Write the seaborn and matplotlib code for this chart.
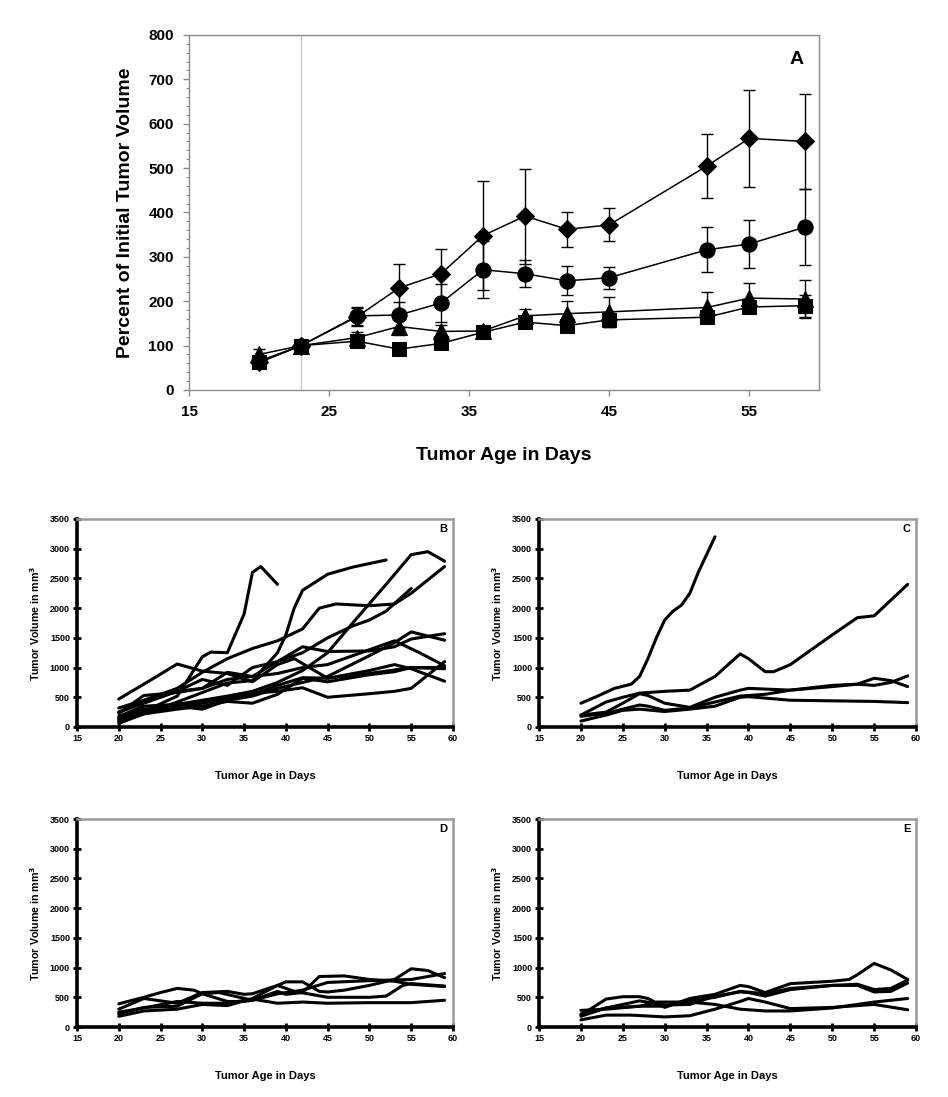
import numpy as np
import pandas as pd
import matplotlib
matplotlib.use('Agg')
import matplotlib.pyplot as plt
import seaborn as sns

# ---- panel A: percent of initial tumor volume (mean +/- error) ----
days_a = [20, 23, 27, 30, 33, 36, 39, 42, 45, 52, 55, 59]
diamond = [62, 100, 165, 230, 262, 348, 392, 362, 372, 505, 567, 560]
diamond_err = [12, 0, 20, 53, 55, 123, 107, 40, 37, 72, 109, 108]
circle = [65, 100, 167, 169, 196, 271, 262, 246, 253, 316, 329, 367]
circle_err = [12, 0, 20, 30, 42, 64, 31, 33, 25, 51, 55, 86]
triangle = [80, 100, 118, 143, 132, 133, 167, 172, 176, 186, 207, 205]
triangle_err = [13, 0, 12, 20, 15, 10, 15, 28, 33, 35, 33, 43]
square = [62, 100, 110, 92, 105, 130, 153, 145, 158, 164, 187, 190]
square_err = [10, 0, 8, 8, 10, 8, 10, 10, 15, 12, 10, 25]

# ---- panels B-E: individual tumor volumes (mm^3) ----
b_days = [
    [20, 23, 27, 30, 31, 33, 35, 36, 37, 39],
    [20, 23, 27, 30, 33, 36, 39, 40, 41, 42, 45, 48, 52],
    [20, 23, 27, 30, 33, 36, 39, 42, 45, 48, 52, 55, 57, 59],
    [20, 23, 27, 30, 33, 36, 39, 42, 44, 46, 50, 53, 55, 59],
    [20, 23, 27, 30, 33, 36, 39, 42, 45, 48, 50, 52, 55],
    [20, 23, 27, 30, 33, 36, 39, 41, 45, 50, 55, 59],
    [20, 23, 27, 30, 33, 36, 39, 42, 45, 50, 53, 55, 59],
    [20, 23, 27, 30, 33, 36, 39, 42, 45, 50, 53, 56, 59],
    [20, 23, 27, 30, 33, 36, 39, 42, 45, 50, 53, 55, 59],
    [20, 23, 27, 30, 33, 36, 39, 42, 45, 50, 53, 55, 59],
    [20, 23, 27, 30, 33, 36, 39, 42, 45, 50, 53, 55, 59],
    [20, 23, 27, 30, 33, 36, 39, 42, 45, 50, 53, 55, 59],
]
b_vols = [
    [130, 260, 520, 1180, 1260, 1250, 1900, 2600, 2700, 2400],
    [90, 220, 420, 580, 740, 780, 1250, 1550, 2000, 2300, 2570, 2690, 2810],
    [150, 250, 380, 450, 520, 600, 750, 950, 1250, 1750, 2400, 2900, 2950, 2790],
    [320, 450, 650, 920, 1150, 1320, 1450, 1650, 2000, 2070, 2040, 2070, 2250, 2700],
    [250, 400, 600, 650, 800, 850, 1100, 1250, 1500, 1700, 1800, 1950, 2330],
    [470, 720, 1060, 940, 900, 760, 1050, 1150, 820, 900, 1000, 1000],
    [250, 420, 600, 800, 700, 1000, 1100, 1350, 1270, 1280, 1350, 1480, 1570],
    [230, 530, 580, 650, 920, 850, 900, 1000, 1050, 1300, 1450, 1250, 1030],
    [180, 350, 380, 420, 500, 550, 700, 830, 820, 950, 1050, 980, 770],
    [100, 270, 320, 400, 470, 570, 600, 660, 500, 560, 600, 650, 1100],
    [60, 220, 300, 350, 430, 400, 550, 820, 760, 880, 930, 1000, 980],
    [150, 300, 350, 300, 450, 520, 650, 750, 850, 1200, 1420, 1600, 1460],
]

c_days = [
    [20, 22, 24, 26, 27, 28, 29, 30, 31, 32, 33, 34, 35, 36],
    [20, 23, 25, 27, 30, 33, 36, 39, 40, 42, 43, 45, 50, 53, 55, 59],
    [20, 23, 25, 27, 28, 30, 33, 36, 39, 40, 45, 50, 53, 55, 57, 59],
    [20, 23, 25, 27, 28, 30, 33, 36, 39, 42, 45, 50, 53, 55, 57, 59],
    [20, 23, 25, 27, 30, 33, 36, 39, 40, 45, 50, 55, 59],
]
c_vols = [
    [400, 520, 650, 720, 850, 1150, 1500, 1800, 1950, 2050, 2250, 2600, 2900, 3200],
    [200, 420, 500, 570, 600, 620, 850, 1230, 1150, 930, 930, 1050, 1550, 1840, 1870, 2400],
    [200, 250, 400, 560, 530, 400, 330, 500, 620, 650, 620, 680, 720, 820, 780, 680],
    [180, 230, 300, 370, 350, 280, 320, 420, 520, 550, 620, 700, 720, 700, 750, 860],
    [100, 200, 280, 300, 260, 300, 350, 500, 510, 450, 440, 430, 410],
]

d_days = [
    [20, 23, 25, 27, 29, 30, 33, 35, 36, 39, 42, 45, 50, 55, 59],
    [20, 23, 27, 30, 33, 35, 36, 39, 40, 42, 44, 45, 47, 50, 53, 55, 57, 59],
    [20, 23, 27, 30, 32, 36, 39, 40, 42, 44, 47, 50, 53, 55, 59],
    [20, 23, 27, 30, 33, 36, 39, 41, 45, 50, 52, 54, 55, 59],
    [20, 23, 27, 30, 33, 36, 39, 42, 45, 50, 55, 59],
]
d_vols = [
    [390, 500, 580, 650, 620, 560, 430, 430, 450, 560, 620, 750, 780, 800, 900],
    [300, 480, 400, 580, 600, 550, 560, 700, 760, 760, 600, 590, 620, 700, 800, 980, 950, 830],
    [220, 330, 350, 560, 580, 450, 600, 550, 580, 850, 860, 800, 770, 720, 680],
    [180, 270, 300, 380, 360, 480, 700, 600, 500, 500, 520, 700, 730, 690],
    [250, 320, 430, 400, 400, 470, 400, 420, 400, 410, 410, 450],
]

e_days = [
    [20, 23, 25, 27, 28, 30, 33, 36, 39, 40, 42, 45, 50, 52, 53, 55, 57, 59],
    [20, 23, 27, 30, 33, 36, 39, 40, 42, 45, 50, 53, 55, 57, 59],
    [20, 23, 27, 30, 33, 36, 39, 42, 45, 50, 53, 55, 57, 59],
    [20, 23, 27, 29, 33, 36, 39, 42, 45, 50, 55, 59],
    [20, 23, 26, 30, 33, 36, 39, 40, 42, 45, 50, 55, 59],
]
e_vols = [
    [200, 470, 510, 510, 480, 330, 480, 550, 700, 680, 580, 730, 770, 800, 880, 1070, 960, 800],
    [180, 320, 440, 370, 380, 520, 590, 580, 520, 630, 700, 720, 630, 650, 790],
    [220, 320, 350, 350, 450, 500, 600, 560, 650, 700, 700, 590, 600, 740],
    [280, 300, 350, 420, 420, 380, 300, 270, 270, 320, 420, 480],
    [120, 200, 200, 170, 190, 300, 430, 480, 420, 310, 330, 380, 290],
]

sns.set_theme(style='white')
plt.rcParams['font.family'] = ['Liberation Sans', 'DejaVu Sans']
plt.rcParams['font.weight'] = 'bold'
plt.rcParams['mathtext.default'] = 'bf'
plt.rcParams['text.color'] = 'black'
plt.rcParams['axes.labelcolor'] = 'black'
plt.rcParams['xtick.color'] = 'black'
plt.rcParams['ytick.color'] = 'black'

fig = plt.figure(figsize=(9.48, 10.97), dpi=100)

# ---------------- panel A ----------------
ax = fig.add_axes([0.1994, 0.6445, 0.6646, 0.3236])
groups = {'diamond': (diamond, diamond_err, 'D', 9),
          'circle': (circle, circle_err, 'o', 11),
          'triangle': (triangle, triangle_err, '^', 11),
          'square': (square, square_err, 's', 10)}
rows = []
for name, (vals, errs, m, ms) in groups.items():
    for d, v in zip(days_a, vals):
        rows.append({'day': d, 'pct': v, 'group': name})
df_a = pd.DataFrame(rows)

ax.axvline(23, color='#c8c8c8', lw=0.9, zorder=0)
for name, (vals, errs, m, ms) in groups.items():
    ax.errorbar(days_a, vals, yerr=errs, fmt='none', ecolor='black',
                elinewidth=1, capsize=4, capthick=1, zorder=1.5)
    sns.lineplot(data=df_a[df_a['group'] == name], x='day', y='pct', ax=ax,
                 color='black', lw=1.1, marker=m, markersize=ms,
                 markeredgecolor='black', legend=False, zorder=3)

ax.set_xlim(15, 60)
ax.set_ylim(0, 800)
ax.set_xticks([15, 25, 35, 45, 55])
ax.set_yticks(np.arange(0, 801, 100))
ax.set_yticks(np.arange(0, 801, 20), minor=True)
for s in ax.spines.values():
    s.set_color('#8c8c8c')
    s.set_linewidth(1.0)
ax.tick_params(axis='both', which='major', direction='out', length=4, width=1,
               color='#8c8c8c', labelcolor='black', labelsize=11, pad=7,
               left=True, bottom=True)
ax.tick_params(axis='y', which='minor', direction='out', length=2.5, width=0.8,
               color='#8c8c8c', left=True)
ax.set_xlabel('Tumor Age in Days', fontsize=14, fontweight='bold', labelpad=20)
ax.set_ylabel('Percent of Initial Tumor Volume', fontsize=14, fontweight='bold', labelpad=10)
ax.text(0.975, 0.955, 'A', transform=ax.transAxes, ha='right', va='top',
        fontsize=14, fontweight='bold')


# ---------------- panels B-E ----------------
def draw_panel(rect, days_list, vols_list, letter):
    ax = fig.add_axes(rect)
    rows = []
    for i, (ds, vs) in enumerate(zip(days_list, vols_list)):
        for d, v in zip(ds, vs):
            rows.append({'day': d, 'volume': v, 'mouse': i})
    df = pd.DataFrame(rows)
    sns.lineplot(data=df, x='day', y='volume', units='mouse', estimator=None,
                 color='black', lw=2.2, sort=False, ax=ax, legend=False)
    ax.set_xlim(15, 60)
    ax.set_ylim(0, 3500)
    ax.set_xticks(np.arange(15, 61, 5))
    ax.set_yticks(np.arange(0, 3501, 500))
    for side in ['left', 'bottom']:
        ax.spines[side].set_color('black')
        ax.spines[side].set_linewidth(2.6)
    for side in ['top', 'right']:
        ax.spines[side].set_color('#9a9a9a')
        ax.spines[side].set_linewidth(1.8)
    ax.tick_params(axis='both', direction='inout', length=6, width=2,
                   color='black', labelsize=6.5, pad=2, left=True, bottom=True)
    ax.set_xlabel('Tumor Age in Days', fontsize=8, fontweight='bold', labelpad=20)
    ax.set_ylabel('Tumor Volume in mm$^{3}$', fontsize=7.7, fontweight='bold', labelpad=6)
    ax.text(0.985, 0.975, letter, transform=ax.transAxes, ha='right', va='top',
            fontsize=8, fontweight='bold')
    return ax


draw_panel([0.0812, 0.3373, 0.3966, 0.1896], b_days, b_vols, 'B')
draw_panel([0.5686, 0.3373, 0.3977, 0.1896], c_days, c_vols, 'C')
draw_panel([0.0812, 0.0638, 0.3966, 0.1896], d_days, d_vols, 'D')
draw_panel([0.5686, 0.0638, 0.3977, 0.1896], e_days, e_vols, 'E')

fig.savefig('out.png', dpi=100)
